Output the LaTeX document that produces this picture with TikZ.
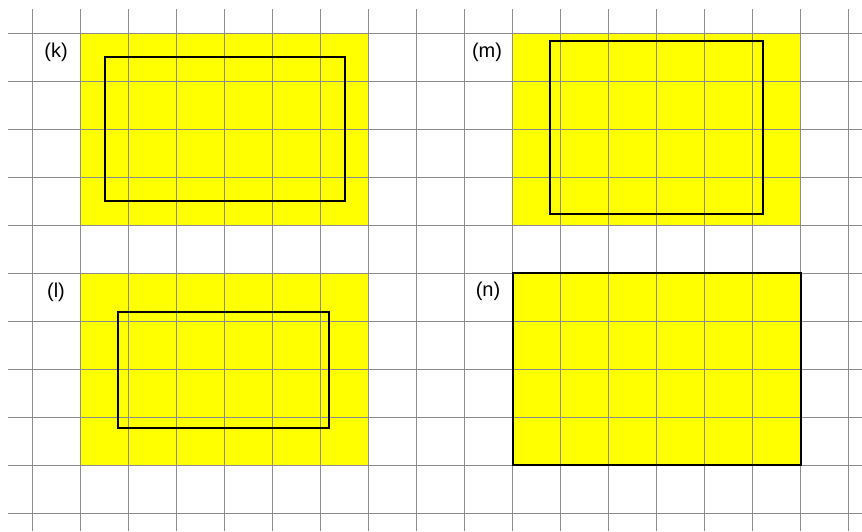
\documentclass[tikz,border=0pt]{standalone}
\usepackage{fontspec}
\setmainfont{Liberation Sans}
\definecolor{yel}{RGB}{255,255,0}
\definecolor{gridgray}{RGB}{140,140,140}
\begin{document}
\begin{tikzpicture}[x=1pt,y=-1pt,
  gridline/.style={draw=gridgray,line width=1pt},
  fillbox/.style={fill=yel},
  outline/.style={draw=black,line width=2pt},
  lab/.style={font=\fontsize{20}{24}\selectfont,inner sep=0pt}]
\useasboundingbox (0,0) rectangle (862,531);
% yellow areas
\fill[fillbox] (80.5,33) rectangle (368.5,225);
\fill[fillbox] (512.5,33) rectangle (800.5,225);
\fill[fillbox] (80.5,273) rectangle (368.5,465);
\fill[fillbox] (512.5,273) rectangle (800.5,465);
% grid
\foreach \i in {0,...,17} {
  \draw[gridline] (32.5+48*\i,9) -- (32.5+48*\i,531);
}
\foreach \j in {0,...,10} {
  \draw[gridline] (8,33+48*\j) -- (862,33+48*\j);
}
% outlines
\draw[outline] (104.5,57) rectangle (344.5,201);
\draw[outline] (550,41) rectangle (763,214);
\draw[outline] (118,312) rectangle (329,428);
\draw[outline] (512.5,273) rectangle (800.5,465);
% labels
\node[lab] (k) at (56,52) {(k)};
\node[lab] (m) at (487,52) {(m)};
\node[lab] (l) at (56,292) {(l)};
\node[lab] (n) at (488,291) {(n)};
\end{tikzpicture}
\end{document}
